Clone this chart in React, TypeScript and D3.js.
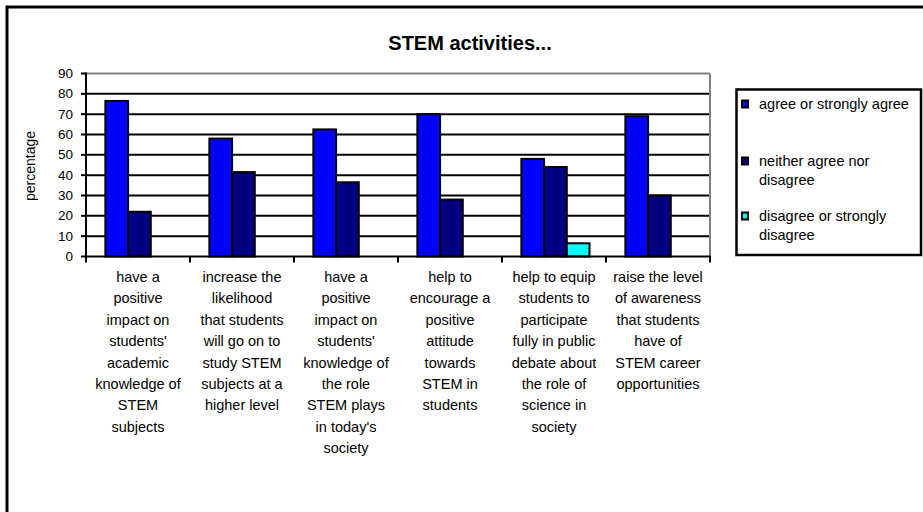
import React from "react";
import * as d3 from "d3";

const title = "STEM activities...";
const yLabel = "percentage";
const yTicks = [0, 10, 20, 30, 40, 50, 60, 70, 80, 90];
const categories: string[][] = [
  ["have a", "positive", "impact on", "students'", "academic", "knowledge of", "STEM", "subjects"],
  ["increase the", "likelihood", "that students", "will go on to", "study STEM", "subjects at a", "higher level"],
  ["have a", "positive", "impact on", "students'", "knowledge of", "the role", "STEM plays", "in today's", "society"],
  ["help to", "encourage a", "positive", "attitude", "towards", "STEM in", "students"],
  ["help to equip", "students to", "participate", "fully in public", "debate about", "the role of", "science in", "society"],
  ["raise the level", "of awareness", "that students", "have of", "STEM career", "opportunities"],
];
const seriesNames: string[][] = [
  ["agree or strongly agree"],
  ["neither agree nor", "disagree"],
  ["disagree or strongly", "disagree"],
];
const agree = [76.5, 58, 62.5, 70, 48, 69];
const neither = [22, 41.5, 36.5, 28, 44, 30];
const disagree = [0, 0, 0, 0, 6.5, 0];
const colors = ["#0000FF", "#000080", "#00FFFF"];

export default function App() {
  const W = 923, H = 512;
  const left = 86, right = 710, top = 73.5, bottom = 256.5;
  const series = [agree, neither, disagree];
  const idx = categories.map((_, i) => i);
  const x0 = d3.scaleBand<number>().domain(idx).range([left, right]).padding(0);
  const x1 = d3.scaleBand<number>().domain([0, 1, 2]).range([0, x0.bandwidth()])
    .paddingInner(0).paddingOuter(0.79).align(0.54);
  const y = d3.scaleLinear().domain([0, 90]).range([bottom, top]);
  const font = "Arial, 'Liberation Sans', Helvetica, sans-serif";

  const legendY = [104, 161, 216];
  return (
    <svg width={W} height={H} style={{ position: "absolute", left: 0, top: 0, background: "#fff" }} fontFamily={font}>
      <rect x={0} y={0} width={W} height={H} fill="#fff" />
      <rect x={7} y={7} width={W + 20} height={H + 20} fill="none" stroke="#000" strokeWidth={3} />
      <text x={470} y={49.5} textAnchor="middle" fontWeight="bold" fontSize={20}>{title}</text>
      <text transform={`translate(30,166) rotate(-90)`} textAnchor="middle" dominantBaseline="central" fontSize={14}>{yLabel}</text>
      {/* gridlines */}
      {yTicks.filter(t => t > 0 && t < 90).map(t => (
        <line key={t} x1={left} x2={right} y1={y(t)} y2={y(t)} stroke="#000" strokeWidth={2} />
      ))}
      <line x1={left} x2={right} y1={y(90)} y2={y(90)} stroke="#808080" strokeWidth={2} />
      <line x1={right} x2={right} y1={y(90)} y2={y(0)} stroke="#808080" strokeWidth={2} />
      {/* bars */}
      {series.map((vals, s) => vals.map((v, i) => v > 0 ? (
        <rect key={`${s}-${i}`} x={(x0(i) ?? 0) + (x1(s) ?? 0)} y={y(v)} width={x1.bandwidth()} height={y(0) - y(v)}
          fill={colors[s]} stroke="#000" strokeWidth={2} />
      ) : null))}
      {/* axes */}
      <line x1={left} x2={left} y1={y(90) - 1} y2={y(0) + 1} stroke="#000" strokeWidth={2} />
      {yTicks.map(t => (
        <g key={t}>
          <line x1={left - 5} x2={left} y1={y(t)} y2={y(t)} stroke="#000" strokeWidth={2} />
          <text x={73} y={y(t)} textAnchor="end" dominantBaseline="central" fontSize={13.5}>{t}</text>
        </g>
      ))}
      <line x1={left} x2={right + 1} y1={y(0)} y2={y(0)} stroke="#000" strokeWidth={2} />
      {idx.concat([categories.length]).map(i => {
        const xx = i < categories.length ? (x0(i) ?? 0) : right;
        return <line key={i} x1={xx} x2={xx} y1={y(0)} y2={y(0) + 6} stroke="#000" strokeWidth={2} />;
      })}
      {categories.map((lines, i) => (
        <text key={i} textAnchor="middle" fontSize={14.5}>
          {lines.map((l, j) => (
            <tspan key={j} x={(x0(i) ?? 0) + x0.bandwidth() / 2} y={277 + j * 21.4} dominantBaseline="central">{l}</tspan>
          ))}
        </text>
      ))}
      {/* legend */}
      <rect x={736.5} y={89.5} width={184.5} height={165.5} fill="#fff" stroke="#000" strokeWidth={2.5} />
      {seriesNames.map((lines, s) => (
        <g key={s}>
          <rect x={742} y={legendY[s] - 3.5} width={6} height={7} fill={colors[s]} stroke="#000" strokeWidth={2} />
          <text fontSize={14.5}>
            {lines.map((l, j) => (
              <tspan key={j} x={759} y={legendY[s] + j * 19} dominantBaseline="central">{l}</tspan>
            ))}
          </text>
        </g>
      ))}
    </svg>
  );
}
